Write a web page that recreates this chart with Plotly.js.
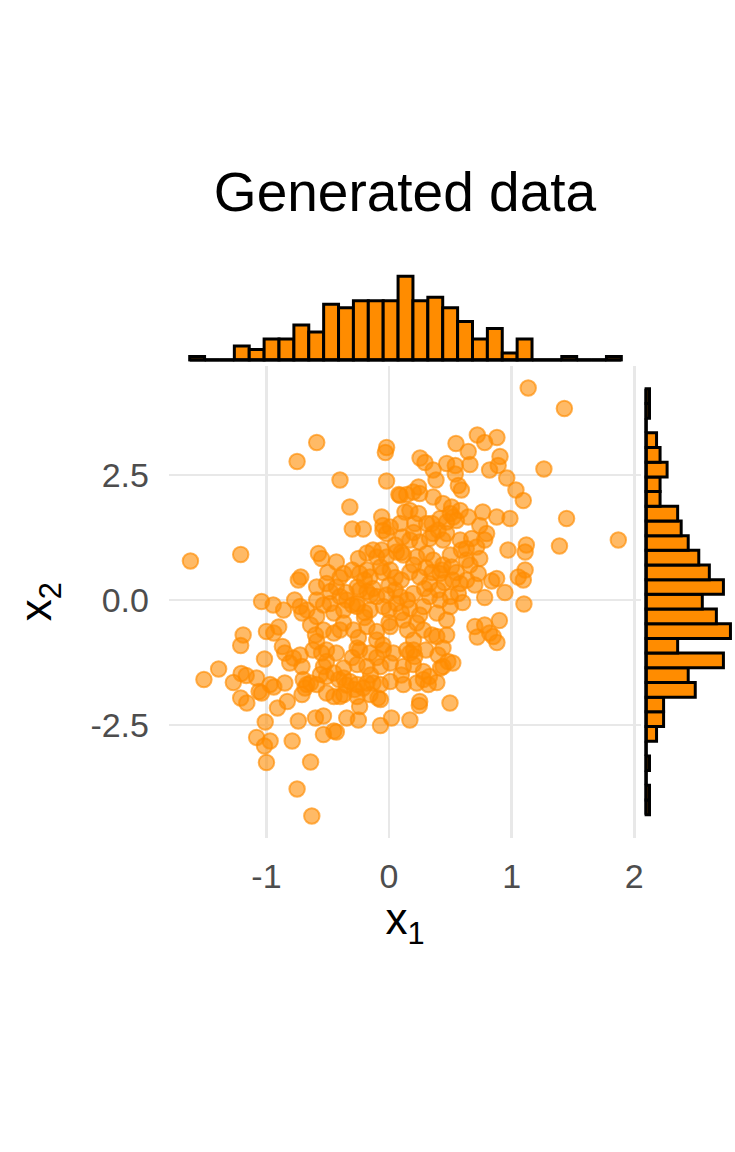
<!DOCTYPE html>
<html><head><meta charset="utf-8">
<script src="https://cdn.plot.ly/plotly-3.0.1.min.js"></script>
<style>html,body{margin:0;padding:0;background:#fff}</style>
</head><body><div id="chart" style="width:735px;height:1152px"></div>
<script>
// Scatter points (x1, x2)
const x1 = [
 -1.62,-1.21,-0.59,-0.75,-0.40,-0.32,-0.30,-0.21,-0.02,-0.03,-0.02,0.08,-0.06,-0.72,-0.74,-0.59,-1.04,-0.945,-0.77,
 0.13,0.09,0.01,-0.05,0.11,-0.13,-0.18,-0.10,-0.02,0.06,-0.30,-0.24,-0.155,-0.37,-0.51,-0.43,-0.26,-0.18,-0.10,-0.345,-0.26,-0.59,-0.48,
 1.135,1.43,0.72,0.78,0.88,0.546,0.646,0.253,0.293,0.47,
 0.54,0.66,0.905,0.89,0.82,0.36,1.263,0.383,0.96,0.54,
 0.565,0.59,1.035,1.095,0.24,0.25,0.144,0.36,1.448,1.87,
 1.39,1.12,1.11,0.97,0.986,0.878,0.764,1.11,1.095,1.054,
 1.10,0.945,0.78,0.878,0.837,0.74,0.66,0.59,0.796,0.78,
 0.674,0.74,0.646,0.524,0.47,0.17,0.24,0.307,0.36,0.44,
 0.51,0.43,0.633,0.58,0.728,0.70,0.565,0.51,0.58,0.44,
 0.09,0.198,
 -1.51,-1.39,-1.27,-1.206,-1.165,-1.19,-1.21,-1.21,-1.16,-1.08,
 -1.06,-1.04,-1.016,-1.0,-0.94,-0.90,-0.97,-0.94,-0.85,-0.83,
 -0.91,-0.87,-0.85,-0.81,-0.78,-0.725,-0.71,-1.01,-1.08,-1.016,
 -0.97,-1.0,-0.79,-0.64,-0.75,-0.63,-0.74,-0.60,-0.535,-0.535,
 -0.45,-0.43,-0.345,-0.25,-0.07,0.02,0.17,-0.71,-0.685,-0.67,
 -0.51,-0.45,-0.40,-0.64,-0.59,-0.24,-0.26,-0.155,-0.07,-0.07,
 0.01,-0.32,-0.28,-0.24,-0.59,-0.62,-0.64,-0.59,-0.71,-0.67,
 -0.86,-0.55,-0.51,-0.56,-0.51,-0.45,-0.41,-0.37,-0.21,-0.13,
 -0.09,
 0.70,0.78,0.90,0.72,0.82,0.88,0.85,0.39,0.47,
 0.44,0.48,0.52,0.42,0.32,0.39,0.28,0.497,0.247,0.47,
 0.17,0.21,
 -0.05,0.21,0.35,0.416,0.50,0.55,0.47,0.58,0.63,0.715,
 -0.02,0.17,0.25,0.33,-0.576,-0.55,-0.43,-0.25,-0.06,0.117,
 0.226,0.307,0.36,0.44,0.63,-0.18,-0.07,0.01,0.17,0.25,
 0.33,0.416,0.52,-0.48,-0.40,-0.24,-0.13,-0.02,0.09,0.198,
 0.29,0.33,0.416,0.50,
 -0.725,-0.535,-0.45,-0.535,-0.45,-0.37,-0.26,-0.155,-0.046,0.06,
 0.17,0.28,0.39,0.50,-0.37,-0.29,-0.18,-0.10,0.01,0.117,
 0.226,0.28,-0.51,-0.43,-0.26,-0.155,-0.046,0.035,0.144,-0.535,
 -0.37,-0.26,-0.18,-0.07,0.01,0.117,0.198,0.28,0.33,0.44,
 -0.70,-0.37,-0.26,-0.18,0.117,0.226,0.25,
 -0.20,0.00,0.10,0.05,0.10,-0.20,0.00,-0.10,0.20,0.15,0.35,0.40,
 -0.35,-0.15,0.05,0.20,0.30,-0.05,-0.30,-0.20,0.00,0.25,
 0.35,0.15,-0.05,-0.25,-0.40,-0.30,-0.10,0.20,0.40,0.05,
 0.20,0.40,0.10,-0.40,-0.50,0.50,0.55,0.45,0.60,0.30,
 -0.60,-0.15,0.10,-0.35
];
const x2 = [
 0.78,0.91,3.15,2.77,2.40,1.86,1.42,1.42,3.05,2.95,2.38,2.11,1.66,0.46,0.40,0.26,-0.03,-0.10,0.00,
 1.76,1.53,1.46,1.39,1.26,1.00,0.94,0.86,0.86,0.96,0.60,0.53,0.46,0.53,0.33,0.26,0.26,0.17,0.07,0.00,-0.07,0.00,-0.07,
 4.24,3.83,3.30,3.15,3.25,3.13,2.97,2.84,2.75,2.73,
 2.69,2.71,2.87,2.69,2.60,2.60,2.62,2.40,2.44,2.52,
 2.29,2.20,2.20,1.99,2.26,2.13,2.11,2.06,1.63,1.20,
 1.08,1.10,0.96,1.00,1.63,1.66,1.76,0.60,0.40,0.46,
 -0.08,0.15,0.05,0.43,0.38,0.83,0.70,1.00,1.33,1.20,
 1.23,1.49,1.66,1.66,1.56,1.79,1.73,1.53,1.33,1.20,
 0.66,0.60,0.40,0.33,0.53,0.30,0.13,1.86,1.79,1.93,
 2.09,2.16,
 -1.59,-1.38,-1.65,-1.47,-1.51,-0.70,-0.91,-1.96,-2.06,-1.56,
 -1.83,-1.86,-1.18,-0.63,-0.66,-0.54,-1.69,-1.74,-1.66,-2.03,
 -2.16,-0.93,-1.06,-1.26,-1.16,-1.10,-1.33,-2.44,-2.75,-2.92,
 -2.82,-3.25,-2.82,-3.24,-3.78,-4.32,-2.42,-2.36,-2.32,-2.69,
 -2.62,-2.64,-2.36,-2.40,-2.51,-2.36,-2.40,-1.89,-1.76,-1.69,
 -1.86,-1.93,-1.93,-1.66,-1.69,-2.13,-1.93,-1.89,-1.99,-1.69,
 -1.63,-1.63,-1.79,-1.00,-0.83,-1.00,-0.50,-0.33,-0.26,-0.20,
 -0.20,-1.06,-1.23,-1.49,-1.53,-1.46,-1.59,-1.56,-1.76,-1.66,
 -1.96,
 -0.53,-0.50,-0.41,-0.74,-0.66,-0.85,-0.73,-0.73,-0.70,
 -0.96,-1.23,-1.26,-1.36,-1.69,-1.65,-1.59,-2.06,-2.11,-0.40,
 -1.06,-1.13,
 1.49,1.53,1.53,1.63,1.73,1.59,1.33,1.20,1.03,1.06,
 1.33,1.20,1.16,1.23,0.93,0.83,0.76,0.83,1.00,0.90,
 0.86,0.93,0.80,0.70,0.80,0.60,0.66,0.60,0.56,0.46,
 0.33,0.53,0.40,0.17,0.07,0.20,0.23,0.10,0.07,0.13,
 0.23,0.07,0.00,0.07,
 -0.13,-0.10,-0.26,-0.60,-0.66,-0.20,-0.13,-0.20,-0.13,-0.07,
 -0.17,-0.13,-0.26,-0.13,-0.46,-0.60,-0.53,-0.63,-0.53,-0.40,
 -0.46,-0.60,-1.00,-1.06,-0.96,-1.06,-1.00,-1.06,-1.00,-1.33,
 -1.36,-1.29,-1.33,-1.33,-1.26,-1.33,-1.29,-1.43,-1.53,-1.33,
 -1.59,-1.89,-1.69,-1.66,-1.69,-1.66,-2.03,
 0.40,0.30,0.40,0.20,-0.25,-0.35,-0.45,-0.80,-0.80,0.00,0.55,0.20,
 0.15,0.10,0.45,0.70,0.65,0.55,-0.10,-0.25,-0.20,-0.30,
 -0.70,-0.60,-0.90,-0.75,-0.60,-1.15,-1.15,-1.00,-1.10,1.10,
 1.35,1.40,0.95,0.45,0.55,0.90,0.55,0.35,-0.05,-1.00,
 -0.70,-1.50,-1.50,-1.70
];

// Marginal histogram of x1 (bins left to right)
const topBinStart = -1.626;
const topBinWidth = 0.1214;
const topCounts = [1,0,0,4,3,6,6,10,8,16,15,17,17,17,24,17,18,15,11,6,9,2,6,0,0,1,0,0,1];

// Marginal histogram of x2 (bins bottom to top)
const rightBinStart = -4.293;
const rightBinWidth = 0.2937;
const rightCounts = [1,1,0,1,0,3,5,5,14,12,22,9,24,20,16,22,18,15,12,10,9,4,4,6,4,3,0,1,1];

// Tick labels
const xTickVals = [-1, 0, 1, 2];
const xTickText = ['-1', '0', '1', '2'];
const yTickVals = [-2.5, 0, 2.5];
const yTickText = ['-2.5', '0.0', '2.5'];

const FONT = 'Liberation Sans, Arial, Helvetica, sans-serif';
const ORANGE = '#FF8C00';

const topCenters = topCounts.map((_, i) => topBinStart + (i + 0.5) * topBinWidth);
const topEnd = topBinStart + topCounts.length * topBinWidth;
const rightCenters = rightCounts.map((_, i) => rightBinStart + (i + 0.5) * rightBinWidth);
const rightEnd = rightBinStart + rightCounts.length * rightBinWidth;

const traces = [
  {
    type: 'scatter', mode: 'markers', x: x1, y: x2, xaxis: 'x', yaxis: 'y',
    marker: { size: 15.5, color: 'rgba(255,140,0,0.6)', line: { color: 'rgba(255,140,0,0.65)', width: 2 } },
    hoverinfo: 'skip'
  },
  {
    type: 'bar', x: topCenters, y: topCounts, width: topBinWidth, xaxis: 'x2', yaxis: 'y2',
    marker: { color: ORANGE, line: { color: '#000', width: 3 } }, hoverinfo: 'skip'
  },
  {
    type: 'scatter', mode: 'lines', x: [topBinStart, topEnd], y: [0, 0], xaxis: 'x2', yaxis: 'y2',
    line: { color: '#000', width: 3.5 }, hoverinfo: 'skip'
  },
  {
    type: 'bar', orientation: 'h', y: rightCenters, x: rightCounts, width: rightBinWidth, xaxis: 'x3', yaxis: 'y3',
    marker: { color: ORANGE, line: { color: '#000', width: 3 } }, hoverinfo: 'skip'
  },
  {
    type: 'scatter', mode: 'lines', x: [0, 0], y: [rightBinStart, rightEnd], xaxis: 'x3', yaxis: 'y3',
    line: { color: '#000', width: 3.5 }, hoverinfo: 'skip'
  }
];

const mainXDomain = [0.2299, 0.8721];
const mainYDomain = [0.2730, 0.6823];
const xRange = [-1.795, 2.055];
const yRange = [-4.75, 4.68];

const layout = {
  width: 735, height: 1152,
  margin: { l: 0, r: 0, t: 0, b: 0 },
  paper_bgcolor: '#fff', plot_bgcolor: '#fff',
  showlegend: false, bargap: 0,
  font: { family: FONT },
  title: {
    text: 'Generated data',
    font: { family: FONT, size: 55, color: '#000' },
    x: 0.551, xref: 'paper', xanchor: 'center',
    y: 0.8333, yref: 'container', yanchor: 'middle'
  },
  xaxis: {
    domain: mainXDomain, range: xRange, anchor: 'y',
    tickvals: xTickVals, ticktext: xTickText,
    showgrid: true, gridcolor: '#E8E8E8', gridwidth: 2.6,
    zeroline: false, showline: false, ticks: '',
    tickfont: { family: FONT, size: 34, color: '#4D4D4D' },
    ticklabelstandoff: 15,
    title: { text: 'x<sub>1</sub>', font: { family: FONT, size: 44, color: '#000' }, standoff: 4 }
  },
  yaxis: {
    domain: mainYDomain, range: yRange, anchor: 'x',
    tickvals: yTickVals, ticktext: yTickText,
    showgrid: true, gridcolor: '#E8E8E8', gridwidth: 2.6,
    zeroline: false, showline: false, ticks: '',
    tickfont: { family: FONT, size: 34, color: '#4D4D4D' },
    ticklabelstandoff: 19,
    title: { text: 'x<sub>2</sub>', font: { family: FONT, size: 44, color: '#000' }, standoff: 24 }
  },
  xaxis2: { domain: mainXDomain, range: xRange, anchor: 'y2', visible: false, fixedrange: true },
  yaxis2: { domain: [0.68599, 0.7632], range: [-0.5, 25], anchor: 'x2', visible: false, fixedrange: true },
  xaxis3: { domain: [0.8765, 0.9986], range: [-0.5, 25], anchor: 'y3', visible: false, fixedrange: true },
  yaxis3: { domain: mainYDomain, range: yRange, anchor: 'x3', visible: false, fixedrange: true }
};

Plotly.newPlot('chart', traces, layout, { staticPlot: true, displayModeBar: false });
</script>
</body></html>
